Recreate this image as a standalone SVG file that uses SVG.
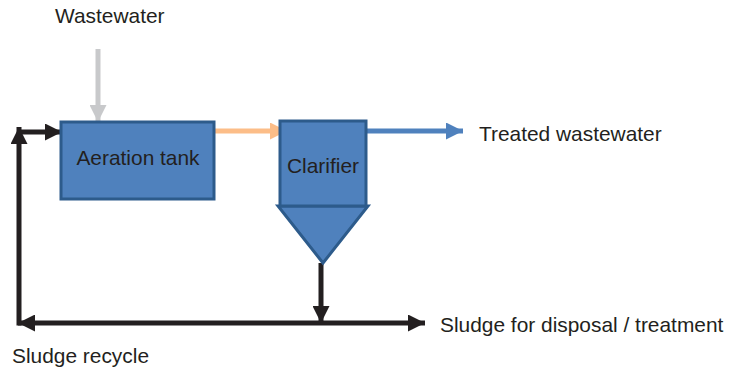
<svg xmlns="http://www.w3.org/2000/svg" width="729" height="371" viewBox="0 0 729 371">
<style>
text{font-family:"Liberation Sans",Arial,Helvetica,sans-serif;font-size:20.9px;fill:#231f20}
.box{fill:#4f81bd;stroke:#2d5b8b;stroke-width:3;stroke-linejoin:miter}
.ln{fill:none;stroke-width:5}
</style>
<defs>
<marker id="hk" markerUnits="userSpaceOnUse" viewBox="0 0 17 17" markerWidth="17" markerHeight="17" refX="17" refY="8.5" orient="auto-start-reverse"><path d="M0,0 L17,8.5 L0,17 z" fill="#231f20"/></marker>
<marker id="hg" markerUnits="userSpaceOnUse" viewBox="0 0 17 17" markerWidth="17" markerHeight="17" refX="17" refY="8.5" orient="auto"><path d="M0,0 L17,8.5 L0,17 z" fill="#c8c9cb"/></marker>
<marker id="ho" markerUnits="userSpaceOnUse" viewBox="0 0 17 17" markerWidth="17" markerHeight="17" refX="17" refY="8.5" orient="auto"><path d="M0,0 L17,8.5 L0,17 z" fill="#fcbd88"/></marker>
<marker id="hb" markerUnits="userSpaceOnUse" viewBox="0 0 17 17" markerWidth="17" markerHeight="17" refX="17" refY="8.5" orient="auto"><path d="M0,0 L17,8.5 L0,17 z" fill="#4f81bd"/></marker>
</defs>
<g id="connectors">
<line class="ln" x1="98" y1="49" x2="98" y2="122" stroke="#c8c9cb" marker-end="url(#hg)"/>
<line class="ln" x1="215" y1="131" x2="287" y2="131" stroke="#fcbd88" marker-end="url(#ho)"/>
<line class="ln" x1="364" y1="131" x2="463" y2="131" stroke="#4f81bd" marker-end="url(#hb)"/>
<line class="ln" x1="321" y1="263" x2="321" y2="323" stroke="#231f20" marker-end="url(#hk)"/>
<line class="ln" x1="18" y1="323" x2="425" y2="323" stroke="#231f20" marker-start="url(#hk)" marker-end="url(#hk)"/>
<line class="ln" x1="19" y1="325.5" x2="19" y2="127" stroke="#231f20" marker-end="url(#hk)"/>
<line class="ln" x1="19" y1="132" x2="62" y2="132" stroke="#231f20" marker-end="url(#hk)"/>
</g>
<g id="aeration-tank">
<rect class="box" x="61" y="122" width="153" height="77"/>
<text x="138" y="165" text-anchor="middle">Aeration tank</text>
</g>
<g id="clarifier">
<polygon class="box" points="278,206 368,206 323,263"/>
<rect class="box" x="280" y="121" width="86" height="85"/>
<text x="323" y="173" text-anchor="middle">Clarifier</text>
</g>
<g id="labels">
<text x="55" y="23">Wastewater</text>
<text x="479" y="141">Treated wastewater</text>
<text x="440" y="332">Sludge for disposal / treatment</text>
<text x="12" y="363">Sludge recycle</text>
</g>
</svg>
